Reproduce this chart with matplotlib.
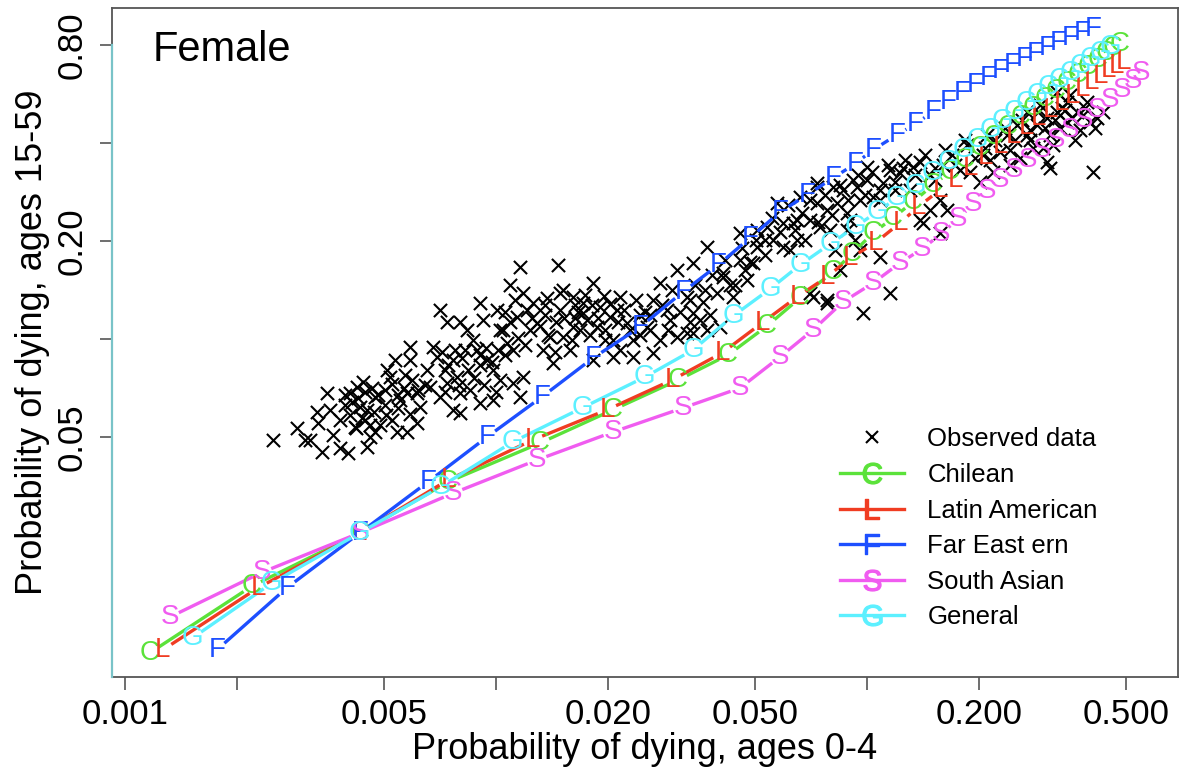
import numpy as np
import matplotlib
matplotlib.use("Agg")
import matplotlib.pyplot as plt
from matplotlib.lines import Line2D

plt.rcParams['font.family'] = ['Liberation Sans', 'DejaVu Sans']
plt.rcParams['mathtext.fontset'] = 'custom'
plt.rcParams['mathtext.rm'] = 'Liberation Sans'

# observed (q0-4, q15-59) pairs
obs_x = [0.002506, 0.002908, 0.003153, 0.003396, 0.003292, 0.003503, 0.003313, 0.003569, 0.003798, 0.003798,
         0.00399, 0.00404, 0.00422, 0.00438, 0.0043, 0.00449, 0.004575, 0.00472, 0.00449, 0.00487,
         0.00472, 0.005085, 0.00534, 0.00518, 0.00551, 0.005755, 0.005243, 0.005408, 0.005755, 0.006128,
         0.005863, 0.005863, 0.006128, 0.006243, 0.00652, 0.006643, 0.006768, 0.006938, 0.007067, 0.007381,
         0.007661, 0.007854, 0.008002, 0.007661, 0.008002, 0.007067, 0.007381, 0.008002, 0.008354, 0.008672,
         0.009057, 0.009228, 0.00889, 0.009057, 0.00946, 0.009814, 0.01025, 0.01006, 0.009057, 0.009814,
         0.0107, 0.01111, 0.01091, 0.0116, 0.01182, 0.01139, 0.01212, 0.01111, 0.01182, 0.0116,
         0.01258, 0.0129, 0.01372, 0.01339, 0.01398, 0.01424, 0.01469, 0.01488, 0.01488, 0.01516,
         0.01613, 0.01583, 0.01516, 0.01613, 0.01716, 0.01826, 0.01907, 0.01685, 0.01872, 0.02029,
         0.02159, 0.02255, 0.02067, 0.02341, 0.02553, 0.0265, 0.02768, 0.0289, 0.02768, 0.03076,
         0.03273, 0.03396, 0.03273, 0.03547, 0.03705, 0.03396, 0.03941, 0.04092, 0.04354, 0.04016,
         0.04749, 0.04547, 0.04929, 0.05053, 0.05375, 0.0572, 0.05937, 0.05579, 0.06317, 0.06476,
         0.06598, 0.07021, 0.07331, 0.07152, 0.07801, 0.07469, 0.07801, 0.08301, 0.08617, 0.09,
         0.08458, 0.09169, 0.04092, 0.04547, 0.05053, 0.05937, 0.06476, 0.07331, 0.07331, 0.081,
         0.08834, 0.094, 0.1, 0.1, 0.1038, 0.1105, 0.1153, 0.1227, 0.133, 0.1573,
         0.1389, 0.1478, 0.1643, 0.1153, 0.1084, 0.09577, 0.08834, 0.07801, 0.07021, 0.1415,
         0.1573, 0.125, 0.1389, 0.1478, 0.1603, 0.1695, 0.186, 0.1895, 0.2055, 0.2106,
         0.2283, 0.2384, 0.2537, 0.2699, 0.2699, 0.2802, 0.2872, 0.2926, 0.3057, 0.3114,
         0.3252, 0.3252, 0.346, 0.346, 0.3525, 0.3681, 0.3822, 0.3917, 0.399, 0.4168,
         0.3114, 0.3057, 0.3172, 0.2982, 0.3314, 0.2429, 0.2584, 0.2186, 0.2017, 0.4066,
         0.02067, 0.02159, 0.02341, 0.0265, 0.03396, 0.03705, 0.03076, 0.01826, 0.01759, 0.01967,
         0.02119, 0.02445, 0.01633, 0.01355, 0.01235, 0.01025, 0.01057, 0.00825, 0.00729, 0.00644,
         0.00568, 0.00502, 0.004435, 0.004168, 0.003636, 0.003057, 0.003916, 0.02601, 0.02945, 0.03333,
         0.03659, 0.04274, 0.0469, 0.05309, 0.062, 0.06806, 0.0795, 0.09577, 0.1084, 0.1189,
         0.1306, 0.1525, 0.1781, 0.2145, 0.2429, 0.275, 0.3417, 0.3751, 0.3636, 0.09756,
         0.003916, 0.00409, 0.004246, 0.004435, 0.004633, 0.004809, 0.005023, 0.005243, 0.005442, 0.005649,
         0.005936, 0.006166, 0.00404, 0.004353, 0.004691, 0.005054, 0.005442, 0.005863, 0.004193, 0.004575,
         0.007155, 0.007427, 0.007758, 0.008102, 0.008407, 0.008726, 0.009057, 0.009401, 0.009753, 0.01012,
         0.00729, 0.007952, 0.008511, 0.009285, 0.009998,
         0.01044, 0.01091, 0.01146, 0.01197, 0.0125, 0.01314, 0.01381, 0.01451, 0.01525, 0.01603,
         0.01664, 0.01057, 0.01125, 0.01355, 0.01442,
         0.01738, 0.01814, 0.01883, 0.01955, 0.02029, 0.02132, 0.02213, 0.02297, 0.02384, 0.01792,
         0.01967, 0.02445, 0.02521, 0.01633, 0.01716,
         0.02601, 0.02802, 0.02982, 0.03134, 0.03438, 0.03614, 0.03822, 0.04143, 0.04409, 0.04603,
         0.04838, 0.05022, 0.02909, 0.03333, 0.03774,
         0.05309, 0.05545, 0.05828, 0.06124, 0.06396, 0.0668, 0.07021, 0.07377, 0.07705, 0.08047,
         0.08458, 0.08889, 0.09459, 0.09879, 0.1032, 0.1084, 0.1139, 0.1189, 0.08199, 0.0928,
         0.1266, 0.1347, 0.1433, 0.1525, 0.1623, 0.1727, 0.1837, 0.1955, 0.208, 0.2213,
         0.2355, 0.2506, 0.2617, 0.275, 0.289, 0.3019, 0.3212, 0.3355, 0.3569, 0.3869,
         0.4116, 0.4326]
obs_y = [0.049, 0.0533, 0.049, 0.045, 0.0597, 0.0682, 0.0552, 0.0606, 0.0564, 0.0463,
         0.0447, 0.0682, 0.0712, 0.0738, 0.0618, 0.0606, 0.05, 0.0518, 0.0466, 0.0544,
         0.0664, 0.0803, 0.0862, 0.0764, 0.065, 0.0682, 0.0564, 0.0518, 0.0518, 0.0552,
         0.0945, 0.0862, 0.0682, 0.0618, 0.0803, 0.0712, 0.0945, 0.0881, 0.0664, 0.0732,
         0.0862, 0.0764, 0.0682, 0.0606, 0.0593, 0.1227, 0.1128, 0.1128, 0.1066, 0.0993,
         0.129, 0.1144, 0.0925, 0.0832, 0.0862, 0.0803, 0.0748, 0.1227, 0.0636, 0.065,
         0.0972, 0.0925, 0.1465, 0.1664, 0.1384, 0.1168, 0.1227, 0.0732, 0.0764, 0.0664,
         0.129, 0.112, 0.1337, 0.0925, 0.1014, 0.0844, 0.1688, 0.1384, 0.1227, 0.1014,
         0.1088, 0.0925, 0.1414, 0.1346, 0.1201, 0.1485, 0.1254, 0.1066, 0.1088, 0.1168,
         0.1346, 0.112, 0.0993, 0.0993, 0.1088, 0.1318, 0.1485, 0.1227, 0.0993, 0.1629,
         0.1346, 0.1201, 0.1043, 0.1144, 0.1917, 0.1712, 0.1384, 0.1594, 0.1346, 0.1088,
         0.1517, 0.1749, 0.1712, 0.1917, 0.2207, 0.2617, 0.2271, 0.2014, 0.2271, 0.2014,
         0.273, 0.232, 0.293, 0.1346, 0.129, 0.2207, 0.249, 0.2617, 0.2869, 0.232,
         0.1629, 0.3079, 0.155, 0.2116, 0.2161, 0.1917, 0.232, 0.3014, 0.2617, 0.293,
         0.2438, 0.293, 0.3079, 0.3375, 0.273, 0.3014, 0.3305, 0.3236, 0.3375, 0.2673,
         0.232, 0.249, 0.249, 0.1384, 0.1786, 0.1877, 0.2161, 0.1318, 0.1384, 0.2271,
         0.2116, 0.3352, 0.3497, 0.319, 0.3424, 0.3676, 0.3945, 0.3258, 0.3676, 0.4234,
         0.3754, 0.4234, 0.4542, 0.4234, 0.4979, 0.3862, 0.4542, 0.5232, 0.4772, 0.4234,
         0.4979, 0.5734, 0.4639, 0.5344, 0.5615, 0.4979, 0.4875, 0.5344, 0.4639, 0.4772,
         0.3352, 0.3497, 0.3945, 0.3862, 0.4447, 0.3424, 0.3597, 0.3258, 0.3035, 0.3258,
         0.0881, 0.0925, 0.0881, 0.0906, 0.1043, 0.1066, 0.1014, 0.0862, 0.1144, 0.1066,
         0.1227, 0.1185, 0.1272, 0.1185, 0.1066, 0.1066, 0.0893, 0.0925, 0.0803, 0.0722,
         0.0775, 0.0627, 0.0564, 0.0536, 0.0507, 0.049, 0.0627, 0.1066, 0.1144, 0.1318,
         0.1414, 0.1465, 0.1629, 0.1812, 0.1877, 0.2014, 0.2161, 0.2673, 0.2673, 0.2869,
         0.2869, 0.3079, 0.3305, 0.3547, 0.3808, 0.4087, 0.505, 0.4384, 0.4087, 0.1201,
         0.0673, 0.0641, 0.0659, 0.0687, 0.0707, 0.0673, 0.0697, 0.0727, 0.0673, 0.0707,
         0.0748, 0.0697, 0.0584, 0.0572, 0.0597, 0.0584, 0.0614, 0.0589, 0.0533, 0.0544,
         0.0912, 0.0832, 0.0925, 0.0874, 0.0803, 0.0759, 0.0893, 0.0938, 0.085, 0.0925,
         0.0687, 0.0722, 0.0697, 0.0722, 0.0687,
         0.1066, 0.1128, 0.1007, 0.0958, 0.116, 0.1096, 0.1028, 0.1128, 0.116, 0.0993,
         0.121, 0.121, 0.1318, 0.1272, 0.0912,
         0.1365, 0.1272, 0.116, 0.1356, 0.1281, 0.1128, 0.1227, 0.1066, 0.1318, 0.1028,
         0.0993, 0.1028, 0.121, 0.116, 0.129,
         0.1185, 0.1272, 0.1414, 0.121, 0.1465, 0.1299, 0.1572, 0.1749, 0.1465, 0.1904,
         0.1724, 0.2014, 0.1066, 0.1128, 0.1185,
         0.2014, 0.2353, 0.2131, 0.258, 0.2161, 0.2438, 0.2673, 0.2287, 0.2769, 0.2404,
         0.2972, 0.2673, 0.319, 0.2769, 0.3258, 0.2869, 0.3424, 0.3035, 0.1877, 0.2014,
         0.3547, 0.319, 0.3676, 0.3352, 0.3808, 0.3424, 0.4087, 0.3597, 0.3862, 0.4087,
         0.4447, 0.4087, 0.4706, 0.4384, 0.4979, 0.4447, 0.4706, 0.5122, 0.4772, 0.5122,
         0.4447, 0.4979]

# model life table families
chilean_x = [0.001168, 0.0022, 0.0043, 0.00743, 0.01314, 0.02067, 0.03095, 0.04221, 0.05375, 0.066,
             0.081, 0.0911, 0.1038, 0.1175, 0.133, 0.1506, 0.1674, 0.1837, 0.2017, 0.22,
             0.24, 0.26, 0.2802, 0.3019, 0.3232, 0.346, 0.3704, 0.3941, 0.4194, 0.4407, 0.4603, 0.4807]
chilean_y = [0.01087, 0.01742, 0.0254, 0.0364, 0.0479, 0.0606, 0.0748, 0.0893, 0.1096, 0.1337,
             0.1606, 0.1825, 0.2116, 0.2353, 0.2635, 0.2972, 0.3258, 0.3547, 0.3862, 0.4174,
             0.4478, 0.4806, 0.5122, 0.5458, 0.5774, 0.611, 0.647, 0.6844, 0.7191, 0.7558, 0.783, 0.8055]

latin_x = [0.001266, 0.002284, 0.0043, 0.00743, 0.01258, 0.01992, 0.02982, 0.04067, 0.05212, 0.06476,
           0.078, 0.09, 0.1051, 0.1227, 0.1372, 0.1573, 0.1727, 0.1895, 0.208, 0.2283,
           0.2475, 0.2683, 0.289, 0.3114, 0.3334, 0.3569, 0.3797, 0.4015, 0.4246, 0.4463, 0.469, 0.4898]
latin_y = [0.0111, 0.0172, 0.0254, 0.0369, 0.049, 0.0606, 0.0748, 0.0906, 0.112, 0.1346,
           0.155, 0.1773, 0.1971, 0.2271, 0.2543, 0.2869, 0.3079, 0.3352, 0.3623, 0.3917,
           0.4204, 0.4478, 0.4772, 0.505, 0.5306, 0.5576, 0.5856, 0.6157, 0.6424, 0.6703, 0.6892, 0.709]

fareast_x = [0.00177, 0.00273, 0.0043, 0.00656, 0.00946, 0.0133, 0.01826, 0.02445, 0.0319, 0.0397,
             0.04838, 0.0583, 0.0689, 0.081, 0.0928, 0.1038, 0.1204, 0.1347, 0.1506, 0.1653,
             0.1803, 0.1955, 0.2119, 0.2283, 0.246, 0.265, 0.2837, 0.3057, 0.3273, 0.3525, 0.3797, 0.4066]
fareast_y = [0.0111, 0.0172, 0.0254, 0.0364, 0.05, 0.0664, 0.0874, 0.1088, 0.1394, 0.1688,
             0.2043, 0.2455, 0.2769, 0.3123, 0.3448, 0.3808, 0.4234, 0.4574, 0.4979, 0.5344,
             0.5692, 0.6025, 0.6334, 0.6656, 0.6941, 0.7242, 0.7505, 0.783, 0.8107, 0.840, 0.870, 0.8953]

southasian_x = [0.001322, 0.002341, 0.0043, 0.00766, 0.0129, 0.02067, 0.0319, 0.04547, 0.0583, 0.07152,
                0.0862, 0.1038, 0.1227, 0.1407, 0.1583, 0.1759, 0.1931, 0.2106, 0.2283, 0.249,
                0.2716, 0.2963, 0.3232, 0.3525, 0.3845, 0.4168, 0.4518, 0.4867, 0.5212, 0.5476]
southasian_y = [0.014, 0.0192, 0.0254, 0.0336, 0.0425, 0.0518, 0.0614, 0.0707, 0.0881, 0.1066,
                0.13, 0.1485, 0.1712, 0.189, 0.2101, 0.2336, 0.2598, 0.2848, 0.3079, 0.3305,
                0.3547, 0.3808, 0.4087, 0.4384, 0.4706, 0.505, 0.542, 0.5816, 0.6201, 0.6563]

general_x = [0.001525, 0.00249, 0.0043, 0.00707, 0.0111, 0.01706, 0.0252, 0.03396, 0.04354, 0.05476,
             0.066, 0.0795, 0.0928, 0.1064, 0.1204, 0.1347, 0.1497, 0.1653, 0.1815, 0.1979,
             0.2145, 0.2311, 0.249, 0.2683, 0.2872, 0.3076, 0.3293, 0.3525, 0.3751, 0.399, 0.4246, 0.4518]
general_y = [0.0121, 0.0178, 0.0254, 0.0351, 0.0483, 0.0614, 0.0764, 0.0925, 0.1176, 0.1424,
             0.1688, 0.1958, 0.2207, 0.2455, 0.2711, 0.2951, 0.3236, 0.3497, 0.3808, 0.4087,
             0.4384, 0.4672, 0.4979, 0.5306, 0.5615, 0.594, 0.6245, 0.6563, 0.6892, 0.7242, 0.7558, 0.7885]

families = [
    ("C", "Chilean", "#5be23a", chilean_x, chilean_y),
    ("L", "Latin American", "#f03c22", latin_x, latin_y),
    ("F", "Far East ern", "#1d4fff", fareast_x, fareast_y),
    ("S", "South Asian", "#f05cf0", southasian_x, southasian_y),
    ("G", "General", "#5cf0ff", general_x, general_y),
]

x_ticks = [0.001, 0.002, 0.005, 0.01, 0.02, 0.05, 0.1, 0.2, 0.5]
x_ticklabels = ["0.001", "", "0.005", "", "0.020", "0.050", "", "0.200", "0.500"]
y_ticks = [0.05, 0.1, 0.2, 0.4, 0.8]
y_ticklabels = ["0.05", "", "0.20", "", "0.80"]

fig = plt.figure(figsize=(11.8, 7.74), dpi=100)
ax = fig.add_axes([0.0949, 0.1253, 0.9034, 0.8644])
ax.set_xscale("log")
ax.set_yscale("log")
ax.set_xlim(0.000923, 0.689)
ax.set_ylim(0.00916, 1.039)

ax.scatter(obs_x, obs_y, marker="x", s=90, color="black", linewidths=1.5, zorder=2)


def gapped_line(ax, xs, ys, color, gap=10):
    # type="b" style: segments stop short of each point
    pts = ax.transData.transform(np.column_stack([xs, ys]))
    inv = ax.transData.inverted()
    for (x0, y0), (x1, y1) in zip(pts[:-1], pts[1:]):
        d = np.hypot(x1 - x0, y1 - y0)
        if d <= 2 * gap:
            continue
        ux, uy = (x1 - x0) / d, (y1 - y0) / d
        a = inv.transform((x0 + ux * gap, y0 + uy * gap))
        b = inv.transform((x1 - ux * gap, y1 - uy * gap))
        ax.plot([a[0], b[0]], [a[1], b[1]], color=color, lw=2.4,
                solid_capstyle="butt", zorder=3)


for letter, name, col, xs, ys in families:
    gapped_line(ax, xs, ys, col)
    for xv, yv in zip(xs, ys):
        ax.text(xv, yv, letter, color=col, fontsize=20, ha="center", va="center", zorder=4)

ax.set_xticks(x_ticks)
ax.set_xticklabels(x_ticklabels)
ax.set_yticks(y_ticks)
ax.set_yticklabels(y_ticklabels)
ax.minorticks_off()
ax.tick_params(axis="both", length=9, width=1.2, color="#555555", labelsize=25)
ax.tick_params(axis="x", pad=6)
ax.tick_params(axis="y", pad=8)
plt.setp(ax.get_yticklabels(), rotation=90, va="center")
for sp in ax.spines.values():
    sp.set_color("#555555")
    sp.set_linewidth(1.3)

# faint cyan trace running along the left edge up to 0.80
lo, hi = np.log10(ax.get_ylim())
ax.axvline(ax.get_xlim()[0], ymin=0, ymax=(np.log10(0.8) - lo) / (hi - lo),
           color="#79c3c8", lw=1.6, zorder=5, clip_on=False)

ax.set_xlabel("Probability of dying, ages 0-4", fontsize=26)
ax.set_ylabel("Probability of dying, ages 15-59", fontsize=26)
ax.xaxis.set_label_coords(0.5, -0.082)
ax.yaxis.set_label_coords(-0.058, 0.5)

ax.text(0.0385, 0.937, "Female", transform=ax.transAxes, fontsize=30, va="center", ha="left")

handles = [Line2D([], [], linestyle="none", marker="x", color="black", markersize=9, markeredgewidth=1.5)]
for letter, name, col, xs, ys in families:
    handles.append(Line2D([], [], color=col, lw=2.4, marker=r"$\mathrm{%s}$" % letter, markersize=15))
labels = ["Observed data"] + [f[1] for f in families]
ax.legend(handles, labels, loc="upper left", bbox_to_anchor=(0.683, 0.373), frameon=False,
          fontsize=18.5, handlelength=2.5, handletextpad=0.9, labelspacing=0.45,
          borderpad=0, borderaxespad=0)

fig.savefig("out.png", dpi=100)
